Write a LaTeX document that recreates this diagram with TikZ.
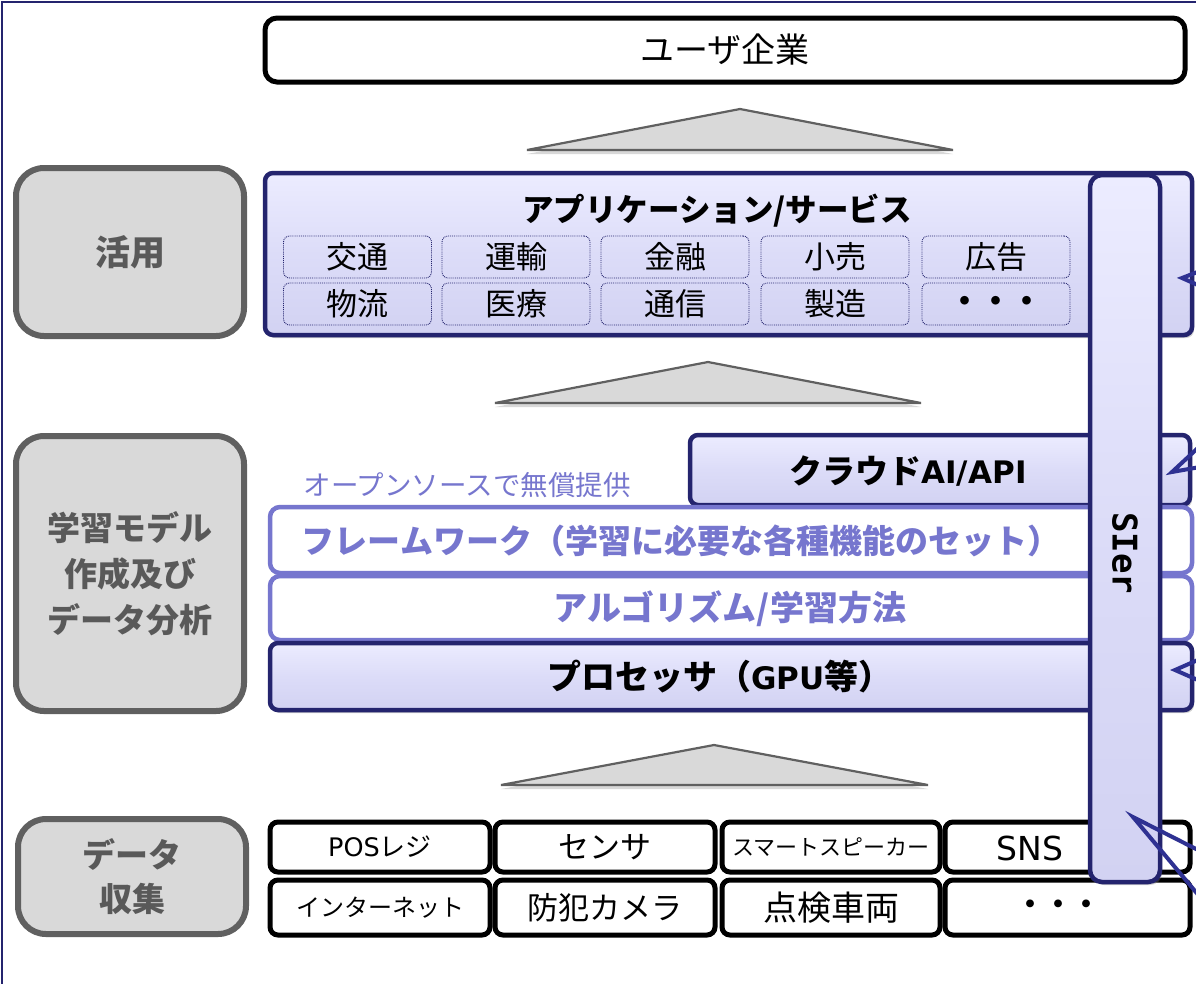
\documentclass[tikz,border=0pt]{standalone}
\usepackage{fontspec}
\setmainfont{Noto Sans CJK JP}
\newfontfamily\dv{DejaVu Sans}
\newfontfamily\dvm{DejaVu Sans Mono}
\usetikzlibrary{shadows}
\definecolor{navy}{RGB}{36,36,110}
\definecolor{tailblue}{RGB}{46,49,146}
\definecolor{lav}{RGB}{220,220,248}
\definecolor{lavhi}{RGB}{236,236,255}
\definecolor{lavlo}{RGB}{210,210,242}
\definecolor{fwblue}{RGB}{118,118,206}
\definecolor{graytxt}{RGB}{89,89,89}
\definecolor{grayfill}{RGB}{217,217,217}
\definecolor{grayline}{RGB}{96,96,96}
\tikzset{
  frameline/.style={draw=navy, line width=2.5pt},
  userbox/.style={draw=black, line width=5pt, rounded corners=12pt, fill=white, font=\fontsize{34}{40}\selectfont},
  labelbox/.style={draw=grayline, line width=6pt, rounded corners=28pt, fill=grayfill, text=graytxt, align=center, font=\bfseries\fontsize{33}{46}\selectfont, minimum width=228pt},
  lavbox/.style={draw=navy, line width=4.5pt, rounded corners=8pt, top color=lavhi, bottom color=lavlo, middle color=lav, drop shadow={opacity=0.35, shadow xshift=2pt, shadow yshift=-3pt}},
  fwbox/.style={draw=fwblue, line width=4.5pt, rounded corners=10pt, fill=white, minimum width=922pt},
  fwtext/.style={text=fwblue, font=\bfseries\fontsize{33}{38}\selectfont},
  subbox/.style={draw=navy, densely dotted, line width=0.9pt, rounded corners=6pt, minimum width=148pt, minimum height=42pt, font=\fontsize{31}{34}\selectfont},
  databox/.style={draw=black, line width=5pt, rounded corners=8pt, fill=white, inner sep=0pt},
  tri/.style={draw=grayline, line width=2.2pt, fill=grayfill, line join=miter, drop shadow={opacity=0.3, shadow xshift=0pt, shadow yshift=-4pt}},
  tailline/.style={draw=tailblue, line width=4pt, line join=miter},
  boldtxt/.style={font=\bfseries\fontsize{33}{38}\selectfont}
}
\begin{document}
\begin{tikzpicture}[x=1pt, y=-1pt]
\clip (0,0) rectangle (1196,983);
\fill[white] (0,0) rectangle (1196,983);
\draw[frameline] (2,2) rectangle (1220,1010);

% top
\node[userbox, minimum width=920pt, minimum height=64pt] (user) at (725,50) {ユーザ企業};

% triangles
\draw[tri] (527,150) -- (740,109) -- (953,150) -- cycle;
\draw[tri] (495,403) -- (708,362) -- (921,403) -- cycle;
\draw[tri] (501,785) -- (714,745) -- (928,785) -- cycle;

% gray labels
\node[labelbox, minimum height=168pt, font=\bfseries\fontsize{35}{40}\selectfont] (lkatsuyo) at (130,252) {活用};
\node[labelbox, minimum height=275pt] (lgakushu) at (130,573.5) {学習モデル\\作成及び\\データ分析};
\node[labelbox, minimum height=115pt, font=\bfseries\fontsize{33}{44}\selectfont] (lshushu) at (132,876.5) {データ\\収集};

% application box
\node[lavbox, minimum width=927pt, minimum height=162pt] (app) at (728.5,254) {};
\node[font=\bfseries\fontsize{31.5}{36}\selectfont] (apptitle) at (717,211) {アプリケーション/サービス};
\node[subbox] (s11) at (357.5,257) {交通};
\node[subbox] (s12) at (516,257) {運輸};
\node[subbox] (s13) at (675,257) {金融};
\node[subbox] (s14) at (835,257) {小売};
\node[subbox] (s15) at (996,257) {広告};
\node[subbox] (s21) at (357.5,304) {物流};
\node[subbox] (s22) at (516,304) {医療};
\node[subbox] (s23) at (675,304) {通信};
\node[subbox] (s24) at (835,304) {製造};
\node[subbox] (s25) at (996,304) {\bfseries・・・};

% learning stack
\node[lavbox, minimum width=500pt, minimum height=70pt] (cloud) at (940,470) {};
\node[boldtxt] (cloudtxt) at (908,471) {クラウド{\dv\fontsize{31}{36}\selectfont AI/API}};
\node[text=fwblue, font=\fontsize{27.5}{32}\selectfont, anchor=west] (oss) at (300,485) {オープンソースで無償提供};
\node[fwbox, minimum height=66pt] (fw) at (731,540) {};
\node[fwtext] (fwtxt) at (681,541) {フレームワーク（学習に必要な各種機能のセット）};
\node[fwbox, minimum height=64pt] (algo) at (731,608) {};
\node[fwtext, font=\bfseries\fontsize{34}{38}\selectfont] (algotxt) at (730,609) {アルゴリズム/学習方法};
\node[lavbox, minimum width=922pt, minimum height=67pt] (proc) at (731,676.5) {};
\node[font=\bfseries\fontsize{34}{38}\selectfont] (proctxt) at (720,677) {プロセッサ（{\dv\fontsize{31}{36}\selectfont GPU}等）};

% data boxes
\node[databox, minimum width=220pt, minimum height=50pt, font=\fontsize{26}{28}\selectfont] (d11) at (380,847) {{\dv\fontsize{25.5}{28}\selectfont POS}レジ};
\node[databox, minimum width=220pt, minimum height=50pt, font=\fontsize{31}{34}\selectfont] (d12) at (605,847) {センサ};
\node[databox, minimum width=218pt, minimum height=50pt, font=\fontsize{22}{24}\selectfont] (d13) at (831,847) {スマートスピーカー};
\node[databox, minimum width=245pt, minimum height=50pt] (d14) at (1067.5,847) {};
\node[font=\dv\fontsize{33}{36}\selectfont] (d14txt) at (1030,848) {SNS};
\node[databox, minimum width=220pt, minimum height=55pt, font=\fontsize{24}{26}\selectfont] (d21) at (380,907.5) {インターネット};
\node[databox, minimum width=220pt, minimum height=55pt, font=\fontsize{31}{34}\selectfont] (d22) at (605,907.5) {防犯カメラ};
\node[databox, minimum width=218pt, minimum height=55pt, font=\fontsize{34}{36}\selectfont] (d23) at (831,907.5) {点検車両};
\node[databox, minimum width=245pt, minimum height=55pt] (d24) at (1067.5,907.5) {};
\node[font=\bfseries\fontsize{28}{30}\selectfont] (d24txt) at (1058,907.5) {・・・};

% SIer bar
\node[lavbox, rounded corners=12pt, minimum width=70pt, minimum height=707pt] (sier) at (1125,528.5) {};
\node[font=\dvm\bfseries\fontsize{34}{38}\selectfont, rotate=-90] (siertxt) at (1125,553) {SIer};

% callout tails
\coordinate (t1) at (1182,278);
\coordinate (t2) at (1172,472);
\coordinate (t3) at (1175,670);
\coordinate (t4) at (1133,817);
\draw[tailline] (1200,271) -- (t1) -- (1200,286);
\draw[tailline] (1200,446) -- (t2) -- (1200,467);
\draw[tailline] (1200,659) -- (t3) -- (1200,681);
\draw[tailline] (1200,851) -- (t4) -- (1200,897);
\end{tikzpicture}
\end{document}
